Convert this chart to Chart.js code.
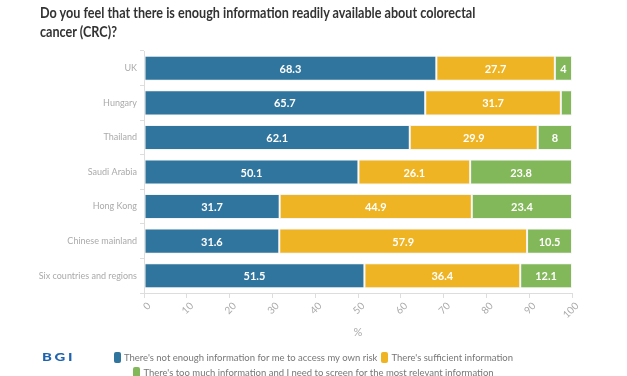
<!DOCTYPE html>
<html>
<head>
<meta charset="utf-8">
<script src="https://cdn.jsdelivr.net/npm/chart.js@4/dist/chart.umd.min.js"></script>
<style>
  html, body { margin: 0; padding: 0; background: #fff; }
  #wrap { position: relative; width: 627px; height: 376px; overflow: hidden; font-family: Lato, 'Open Sans', sans-serif; }
  #title { position: absolute; left: 40px; top: 3px; width: 600px; font-size: 14.5px; font-weight: bold; color: #333; line-height: 19px; transform: scaleX(0.87); transform-origin: left top; }
  #logo { position: absolute; left: 42px; top: 350px; font-size: 11px; font-weight: 900; color: #1d63ad; letter-spacing: 2px; transform: scaleX(1.35); transform-origin: left top; }
  #legend { position: absolute; left: 0; top: 350px; width: 627px; display: flex; flex-wrap: wrap; justify-content: center; padding: 0 98px; box-sizing: border-box; font-size: 9.5px; color: #777; line-height: 15px; }
  #legend .item { display: flex; align-items: center; margin: 0 2px; white-space: nowrap; }
  #legend .box { width: 7px; height: 11px; border-radius: 2px; margin-right: 3px; }
</style>
</head>
<body>
<div id="wrap">
  <div id="title">Do you feel that there is enough information readily available about colorectal<br>cancer (CRC)?</div>
  <canvas id="chart" width="627" height="376"></canvas>
  <div id="logo">BGI</div>
  <div id="legend"></div>
</div>
<script>
// data
const regions = ['UK', 'Hungary', 'Thailand', 'Saudi Arabia', 'Hong Kong', 'Chinese mainland', 'Six countries and regions'];
const notEnough  = [68.3, 65.7, 62.1, 50.1, 31.7, 31.6, 51.5];
const sufficient = [27.7, 31.7, 29.9, 26.1, 44.9, 57.9, 36.4];
const tooMuch    = [4, 2.6, 8, 23.8, 23.4, 10.5, 12.1];
const xTicks = [0, 10, 20, 30, 40, 50, 60, 70, 80, 90, 100];

const seriesNames = [
  "There's not enough information for me to access my own risk",
  "There's sufficient information",
  "There's too much information and I need to screen for the most relevant information"
];
const colors = ['#30759e', '#eeb424', '#82b75a'];

// white numbers inside the segments
const segLabels = {
  id: 'segLabels',
  afterDatasetsDraw(chart) {
    const { ctx } = chart;
    ctx.save();
    ctx.font = 'bold 11px Lato, sans-serif';
    ctx.fillStyle = '#fff';
    ctx.textAlign = 'center';
    ctx.textBaseline = 'middle';
    chart.data.datasets.forEach((ds, i) => {
      chart.getDatasetMeta(i).data.forEach((bar, j) => {
        const v = ds.data[j];
        if (v < 3) return;
        ctx.fillText(String(v), (bar.x + bar.base) / 2, bar.y + 1);
      });
    });
    ctx.restore();
  }
};

const ctx = document.getElementById('chart').getContext('2d');
new Chart(ctx, {
  type: 'bar',
  data: {
    labels: regions,
    datasets: [notEnough, sufficient, tooMuch].map((d, i) => ({
      label: seriesNames[i],
      data: d,
      backgroundColor: colors[i],
      borderColor: '#f4f4f4',
      borderWidth: 1,
      borderSkipped: false,
      categoryPercentage: 0.725,
      barPercentage: 1,
    }))
  },
  options: {
    responsive: false,
    animation: false,
    indexAxis: 'y',
    layout: { padding: { top: 51, right: 55, bottom: 37, left: 0 } },
    plugins: {
      legend: { display: false },
      tooltip: { enabled: false },
    },
    scales: {
      x: {
        stacked: true,
        min: 0,
        max: 100,
        afterBuildTicks: s => { s.ticks = xTicks.map(v => ({ value: v })); },
        afterFit: s => { s.height = 46; },
        grid: { display: true, drawOnChartArea: false, color: '#ddd', tickLength: 5 },
        border: { color: '#ddd', dash: [3, 2] },
        ticks: {
          color: '#aaa',
          font: { family: 'Lato', size: 10 },
          minRotation: 45,
          maxRotation: 45,
          padding: 2,
          labelOffset: 5,
        },
        title: {
          display: true,
          text: '%',
          color: '#aaa',
          font: { family: 'Lato', size: 11 },
          padding: { top: 0, bottom: 0 },
        }
      },
      y: {
        stacked: true,
        afterFit: s => { s.width = 144; },
        grid: { display: true, drawOnChartArea: false, color: '#ddd', tickLength: 4 },
        border: { color: '#ddd', dash: [3, 2] },
        ticks: {
          color: '#aaa',
          font: { family: 'Lato', size: 9 },
          padding: 3,
        }
      }
    }
  },
  plugins: [segLabels]
});

// legend
const legend = document.getElementById('legend');
seriesNames.forEach((name, i) => {
  const item = document.createElement('div');
  item.className = 'item';
  item.innerHTML = `<span class="box" style="background:${colors[i]}"></span>${name}`;
  legend.appendChild(item);
});
</script>
</body>
</html>
